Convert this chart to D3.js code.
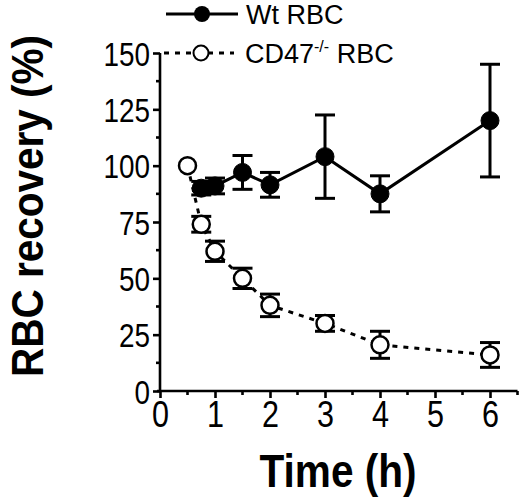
<!DOCTYPE html>
<meta charset="utf-8">
<style>
  body { margin: 0; background: #fff; }
  .tick text { font-family: "Liberation Sans", Arial, sans-serif; }
  .lg { font-family: "Liberation Sans", Arial, sans-serif; font-size: 27px; }
  .ttl { font-family: "Liberation Sans", Arial, sans-serif; font-weight: bold; }
</style>
<body>
<script src="https://cdnjs.cloudflare.com/ajax/libs/d3/7.8.5/d3.min.js"></script>
<script>
// data
var wtTime = [0.75, 1, 1.5, 2, 3, 4, 6];
var wtMean = [90, 91, 97, 91.5, 104, 87.5, 120];
var wtErr  = [3, 3.5, 7.5, 5.5, 18.5, 8, 25];

var koTime = [0.5, 0.75, 1, 1.5, 2, 3, 4, 6];
var koMean = [100, 74, 62, 50, 38, 30, 20.5, 16];
var koErr  = [0, 3.5, 4.5, 4.5, 5, 3.5, 6, 5.5];

var xTicks = [0, 1, 2, 3, 4, 5, 6];
var yTicks = [0, 25, 50, 75, 100, 125, 150];

var width = 520, height = 498;

var svg = d3.select("body").append("svg")
    .attr("width", width)
    .attr("height", height);

var x = d3.scaleLinear().domain([0, 6.5]).range([160, 517.5]);
var y = d3.scaleLinear().domain([0, 150]).range([391, 53]);

// axes
var xAxis = svg.append("g")
    .attr("transform", "translate(0," + y(0) + ")")
    .call(d3.axisBottom(x).tickValues(xTicks).tickFormat(d3.format("d")).tickSize(7).tickPadding(3));
xAxis.select(".domain").attr("d", "M157,0H" + x(6.5));
xAxis.selectAll("text").attr("font-size", 36).attr("fill", "#000")
    .attr("textLength", 17).attr("lengthAdjust", "spacingAndGlyphs");

var yAxis = svg.append("g")
    .attr("transform", "translate(" + x(0) + ",0)")
    .call(d3.axisLeft(y).tickValues(yTicks).tickSize(7).tickPadding(3));
yAxis.select(".domain").attr("d", "M0," + y(150) + "V" + y(0));
yAxis.selectAll("text").attr("font-size", 34).attr("fill", "#000").attr("dy", "0.36em")
    .attr("textLength", d => String(d).length * 15.5).attr("lengthAdjust", "spacingAndGlyphs");

[xAxis, yAxis].forEach(function(a) {
  a.selectAll("path, line").attr("stroke", "#000").attr("stroke-width", 2.6);
});

// minor ticks
svg.append("g").selectAll("line")
  .data(d3.range(0.5, 6.6, 1))
  .enter().append("line")
    .attr("x1", d => x(d)).attr("x2", d => x(d))
    .attr("y1", y(0)).attr("y2", y(0) + 4)
    .attr("stroke", "#000").attr("stroke-width", 2.6);
svg.append("g").selectAll("line")
  .data(d3.range(12.5, 150, 25))
  .enter().append("line")
    .attr("x1", x(0) - 4).attr("x2", x(0))
    .attr("y1", d => y(d)).attr("y2", d => y(d))
    .attr("stroke", "#000").attr("stroke-width", 2.6);

// titles
svg.append("text").attr("class", "ttl")
    .attr("x", 338).attr("y", 487)
    .attr("text-anchor", "middle")
    .attr("font-size", 47)
    .attr("textLength", 157).attr("lengthAdjust", "spacingAndGlyphs")
    .text("Time (h)");

svg.append("text").attr("class", "ttl")
    .attr("transform", "translate(43,206) rotate(-90)")
    .attr("text-anchor", "middle")
    .attr("font-size", 44)
    .attr("textLength", 342).attr("lengthAdjust", "spacingAndGlyphs")
    .text("RBC recovery (%)");

var line = d3.line().x(d => x(d[0])).y(d => y(d[1]));

function drawSeries(t, m, e, filled, dashed) {
  var pts = t.map((d, i) => [d, m[i], e[i]]);
  var g = svg.append("g");
  g.append("path")
    .attr("d", line(pts))
    .attr("fill", "none")
    .attr("stroke", "#000")
    .attr("stroke-width", 3)
    .attr("stroke-dasharray", dashed ? "5,6" : null);
  var eb = g.selectAll(".eb").data(pts.filter(d => d[2] > 0)).enter().append("g")
    .attr("stroke", "#000").attr("stroke-width", 3);
  eb.append("line")
    .attr("x1", d => x(d[0])).attr("x2", d => x(d[0]))
    .attr("y1", d => y(d[1] - d[2])).attr("y2", d => y(d[1] + d[2]));
  [1, -1].forEach(function(s) {
    eb.append("line")
      .attr("x1", d => x(d[0]) - 10).attr("x2", d => x(d[0]) + 10)
      .attr("y1", d => y(d[1] + s * d[2])).attr("y2", d => y(d[1] + s * d[2]));
  });
  g.selectAll("circle").data(pts).enter().append("circle")
    .attr("cx", d => x(d[0])).attr("cy", d => y(d[1]))
    .attr("r", filled ? 9 : 8.5)
    .attr("fill", filled ? "#000" : "#fff")
    .attr("stroke", "#000")
    .attr("stroke-width", filled ? 1 : 2.5);
}

drawSeries(koTime, koMean, koErr, false, true);
drawSeries(wtTime, wtMean, wtErr, true, false);

// legend
var lg = svg.append("g");
lg.append("line").attr("x1", 166).attr("x2", 238).attr("y1", 14).attr("y2", 14)
  .attr("stroke", "#000").attr("stroke-width", 3);
lg.append("circle").attr("cx", 202).attr("cy", 14).attr("r", 8).attr("fill", "#000");
lg.append("text").attr("class", "lg").attr("x", 246).attr("y", 24).text("Wt RBC");

lg.append("line").attr("x1", 164).attr("x2", 234).attr("y1", 53).attr("y2", 53)
  .attr("stroke", "#000").attr("stroke-width", 3).attr("stroke-dasharray", "5,6");
lg.append("circle").attr("cx", 201).attr("cy", 53).attr("r", 7.5)
  .attr("fill", "#fff").attr("stroke", "#000").attr("stroke-width", 2);
var t2 = lg.append("text").attr("class", "lg").attr("x", 245).attr("y", 63);
t2.append("tspan").text("CD47");
t2.append("tspan").attr("font-size", 16).attr("dy", -11).text("-/-");
t2.append("tspan").attr("dy", 11).text(" RBC");
</script>
</body>
